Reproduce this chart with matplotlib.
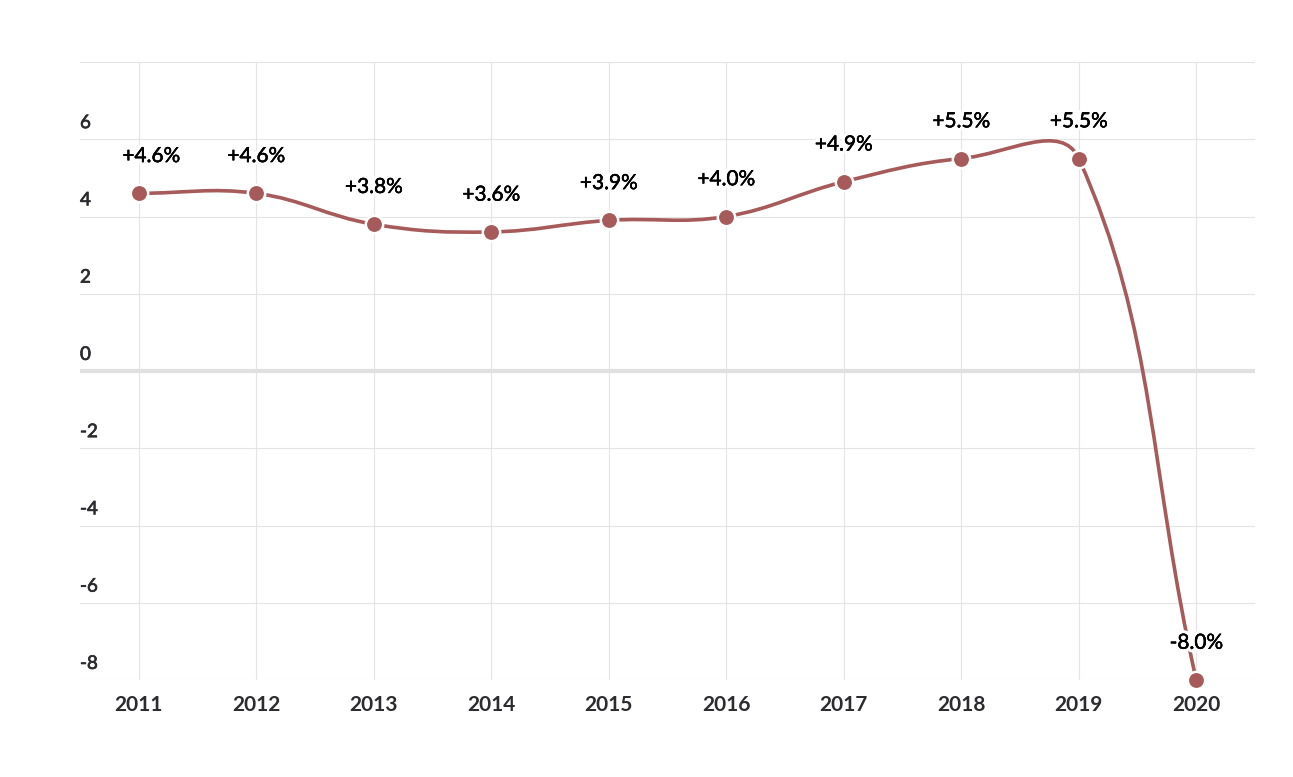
import numpy as np
import matplotlib
matplotlib.use("Agg")
import matplotlib.pyplot as plt
from matplotlib.path import Path
from matplotlib.patches import PathPatch
import matplotlib.patheffects as pe

plt.rcParams['font.family'] = ['Lato', 'DejaVu Sans']

# data
years = [2011, 2012, 2013, 2014, 2015, 2016, 2017, 2018, 2019, 2020]
growth = [4.6, 4.6, 3.8, 3.6, 3.9, 4.0, 4.9, 5.5, 5.5, -8.0]
point_labels = ["+4.6%", "+4.6%", "+3.8%", "+3.6%", "+3.9%", "+4.0%",
                "+4.9%", "+5.5%", "+5.5%", "-8.0%"]
y_ticks = [6, 4, 2, 0, -2, -4, -6, -8]
grid_vals = [8, 6, 4, 2, -2, -4, -6, -8]

LINE_COL = '#a65a5a'
GRID_COL = '#e4e4e4'
TEXT_COL = '#2b2b30'

W, H = 1293, 777
fig = plt.figure(figsize=(W / 100, H / 100), dpi=100)
ax = fig.add_axes([80 / W, (H - 680) / H, 1175 / W, 618 / H])
ax.set_xlim(2010.5, 2020.5)
ax.set_ylim(-8, 8)
for s in ax.spines.values():
    s.set_visible(False)
ax.set_yticks([])
ax.set_xticks(years)
ax.set_xticklabels([str(y) for y in years], fontsize=15, fontweight='bold', color=TEXT_COL)
ax.tick_params(axis='x', length=0, pad=11)

# grid
for yv in grid_vals:
    ax.axhline(yv, color=GRID_COL, lw=0.8, zorder=0)
ax.axhline(0, color='#e0e0e0', lw=3, zorder=0.5)
for xv in years:
    ax.axvline(xv, color=GRID_COL, lw=0.8, zorder=0)

# y labels sit above their grid lines
bolder = [pe.Stroke(linewidth=0.5, foreground=TEXT_COL), pe.Normal()]
for yv in y_ticks:
    ax.annotate(str(yv), (0, yv), xycoords=('axes fraction', 'data'),
                xytext=(0, 8), textcoords='offset points',
                ha='left', va='baseline', fontsize=13.5, color=TEXT_COL,
                path_effects=bolder)

# smooth line (cubic spline with tension 0.4, computed in pixel space)
tension = 0.4
pts = ax.transData.transform(np.column_stack([years, growth]))
n = len(pts)
prev_cp = []
next_cp = []
for i in range(n):
    p0 = pts[max(i - 1, 0)]
    p1 = pts[i]
    p2 = pts[min(i + 1, n - 1)]
    d01 = np.hypot(*(p1 - p0))
    d12 = np.hypot(*(p2 - p1))
    tot = d01 + d12
    s01 = d01 / tot if tot else 0
    s12 = d12 / tot if tot else 0
    prev_cp.append(p1 - tension * s01 * (p2 - p0))
    next_cp.append(p1 + tension * s12 * (p2 - p0))

verts = [pts[0]]
codes = [Path.MOVETO]
for i in range(n - 1):
    verts += [next_cp[i], prev_cp[i + 1], pts[i + 1]]
    codes += [Path.CURVE4] * 3
verts = ax.transData.inverted().transform(np.array(verts))
ax.add_patch(PathPatch(Path(verts, codes), facecolor='none', edgecolor=LINE_COL,
                       lw=2.6, zorder=2, capstyle='round'))

ax.plot(years, growth, 'o', ms=12.5, color=LINE_COL, mec='white', mew=1.8,
        zorder=3, clip_on=False)

for i, (x, y, lab) in enumerate(zip(years, growth, point_labels)):
    dx = 9 if i == 0 else 0  # first label is nudged inside the chart
    ax.annotate(lab, (x, y), xytext=(dx, 22.5), textcoords='offset points',
                ha='center', va='baseline', fontsize=15, color='black', zorder=4,
                path_effects=[pe.withStroke(linewidth=5, foreground='white'),
                              pe.Stroke(linewidth=0.3, foreground='black'),
                              pe.Normal()])

fig.savefig('out.png', dpi=100)
